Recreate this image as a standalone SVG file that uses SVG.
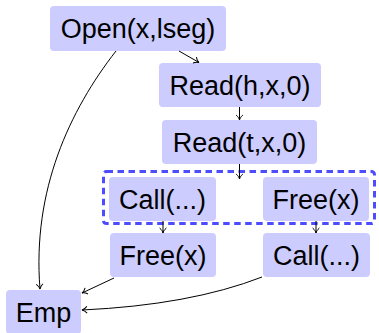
<svg xmlns="http://www.w3.org/2000/svg" width="379" height="333" viewBox="0 0 379 333">
  <style>
    .box { fill: #ccccff; stroke: none; }
    .lbl { font-family: "Liberation Sans", Arial, sans-serif; font-size: 27px; fill: #000; text-anchor: middle; }
    .edge { fill: none; stroke: #000; stroke-width: 1; marker-end: url(#tip); }
    .group { fill: none; stroke: #4d4dff; stroke-width: 3; stroke-dasharray: 6.5 4.5; }
  </style>
  <defs>
    <marker id="tip" viewBox="-6 -4 7 8" refX="0" refY="0" markerWidth="7" markerHeight="8" markerUnits="userSpaceOnUse" orient="auto">
      <path d="M-5,-3.4 C-3.2,-1.2 -1.2,-0.3 0,0 C-1.2,0.3 -3.2,1.2 -5,3.4" fill="none" stroke="#000" stroke-width="1"/>
    </marker>
  </defs>

  <!-- dashed grouping around the parallel branch -->
  <rect class="group" x="103.5" y="171.5" width="271" height="52" rx="3"/>

  <g id="open"><rect class="box" x="50" y="6" width="176" height="45" rx="4"/><text class="lbl" x="138" y="38">Open(x,lseg)</text></g>
  <g id="read-h"><rect class="box" x="159" y="63" width="162" height="44" rx="4"/><text class="lbl" x="240" y="95">Read(h,x,0)</text></g>
  <g id="read-t"><rect class="box" x="162" y="120" width="155" height="44" rx="4"/><text class="lbl" x="239.5" y="152">Read(t,x,0)</text></g>
  <g id="call-1"><rect class="box" x="109" y="177" width="107" height="44" rx="4"/><text class="lbl" x="162.5" y="209">Call(...)</text></g>
  <g id="free-1"><rect class="box" x="263" y="177" width="106" height="44" rx="4"/><text class="lbl" x="316" y="209">Free(x)</text></g>
  <g id="free-2"><rect class="box" x="110" y="233" width="106" height="44" rx="4"/><text class="lbl" x="163" y="265">Free(x)</text></g>
  <g id="call-2"><rect class="box" x="263" y="233" width="107" height="44" rx="4"/><text class="lbl" x="316.5" y="265">Call(...)</text></g>
  <g id="emp"><rect class="box" x="6" y="290" width="75" height="44" rx="4"/><text class="lbl" x="43.5" y="322">Emp</text></g>

  <g id="connectors">
    <path class="edge" d="M179,51 L199,62.5"/>
    <path class="edge" d="M239.5,107 L239.5,120"/>
    <path class="edge" d="M239.5,164 L239.5,179"/>
    <path class="edge" d="M163,221 L163,233"/>
    <path class="edge" d="M316,221 L316,233"/>
    <path class="edge" d="M116,51 C70,110 32,190 40,289"/>
    <path class="edge" d="M114,278 L82,293"/>
    <path class="edge" d="M262,277 Q190,305 82,310"/>
  </g>
</svg>
